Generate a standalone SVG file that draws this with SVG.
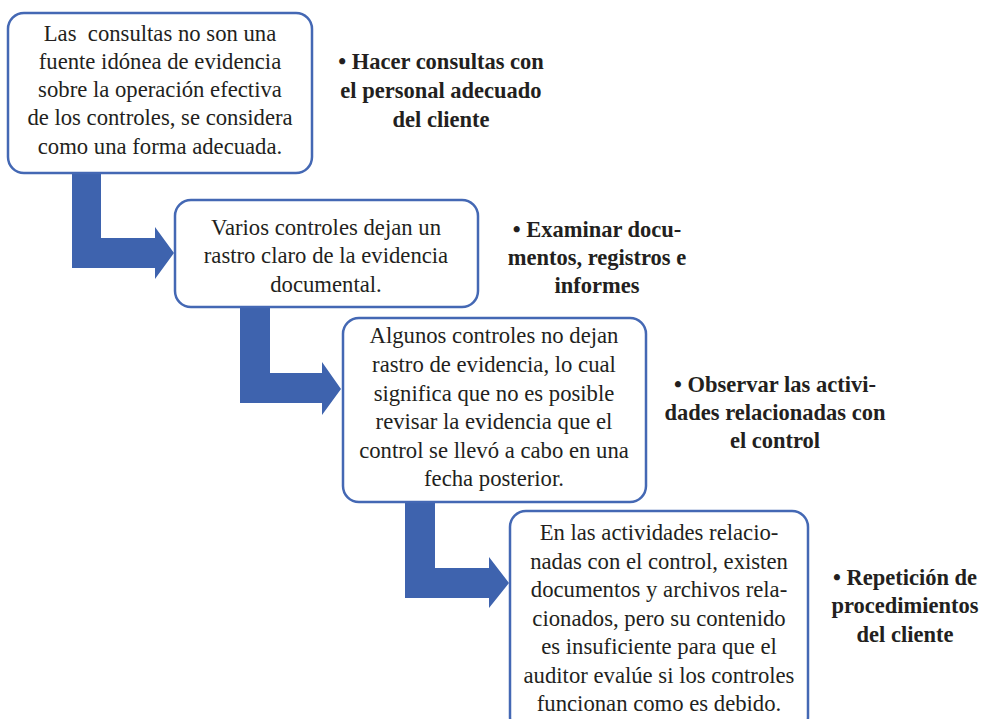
<svg xmlns="http://www.w3.org/2000/svg" width="985" height="719" viewBox="0 0 985 719">
<style>
.box{fill:#fff;stroke:#4468b4;stroke-width:2.5}
.arr{fill:#3e63ae}
.t{font-family:'Liberation Serif','Times New Roman',serif;font-size:22.7px;fill:#231f20;text-anchor:middle}
.b{font-family:'Liberation Serif','Times New Roman',serif;font-size:22.5px;font-weight:bold;fill:#231f20;text-anchor:middle}
</style>
<rect width="985" height="719" fill="#fff"/>
<g id="connectors">
<path class="arr" d="M72 172 H101 V238 H155 V227 L174 253 L155 279 V268 H72 Z"/>
<path class="arr" d="M240 306 H270 V373 H322 V362 L341 389 L322 415 V403 H240 Z"/>
<path class="arr" d="M405 501 H435 V568 H489 V557 L509 583 L489 608 V598 H405 Z"/>
</g>
<g id="node1">
<rect class="box" x="8" y="13" width="304" height="160" rx="16"/>
<text class="t" x="160" y="41" xml:space="preserve">Las  consultas no son una</text>
<text class="t" x="160" y="69">fuente idónea de evidencia</text>
<text class="t" x="160" y="97">sobre la operación efectiva</text>
<text class="t" x="160" y="125">de los controles, se considera</text>
<text class="t" x="160" y="154">como una forma adecuada.</text>
</g>
<g id="label1">
<text class="b" x="441" y="69">• Hacer consultas con</text>
<text class="b" x="441" y="98">el personal adecuado</text>
<text class="b" x="441" y="127">del cliente</text>
</g>
<g id="node2">
<rect class="box" x="175" y="200" width="303" height="107" rx="16"/>
<text class="t" x="326" y="235">Varios controles dejan un</text>
<text class="t" x="326" y="263">rastro claro de la evidencia</text>
<text class="t" x="326" y="292">documental.</text>
</g>
<g id="label2">
<text class="b" x="597" y="237">• Examinar docu-</text>
<text class="b" x="597" y="265">mentos, registros e</text>
<text class="b" x="597" y="293">informes</text>
</g>
<g id="node3">
<rect class="box" x="343" y="318" width="303" height="184" rx="16"/>
<text class="t" x="494" y="343">Algunos controles no dejan</text>
<text class="t" x="494" y="372">rastro de evidencia, lo cual</text>
<text class="t" x="494" y="401">significa que no es posible</text>
<text class="t" x="494" y="429">revisar la evidencia que el</text>
<text class="t" x="494" y="458">control se llevó a cabo en una</text>
<text class="t" x="494" y="486">fecha posterior.</text>
</g>
<g id="label3">
<text class="b" x="775" y="392">• Observar las activi-</text>
<text class="b" x="775" y="420">dades relacionadas con</text>
<text class="b" x="775" y="448">el control</text>
</g>
<g id="node4">
<rect class="box" x="510" y="511" width="298" height="222" rx="16"/>
<text class="t" x="659" y="540">En las actividades relacio-</text>
<text class="t" x="659" y="569">nadas con el control, existen</text>
<text class="t" x="659" y="597">documentos y archivos rela-</text>
<text class="t" x="659" y="626">cionados, pero su contenido</text>
<text class="t" x="659" y="654">es insuficiente para que el</text>
<text class="t" x="659" y="683">auditor evalúe si los controles</text>
<text class="t" x="659" y="711">funcionan como es debido.</text>
</g>
<g id="label4">
<text class="b" x="905" y="585">• Repetición de</text>
<text class="b" x="905" y="613">procedimientos</text>
<text class="b" x="905" y="642">del cliente</text>
</g>
</svg>
